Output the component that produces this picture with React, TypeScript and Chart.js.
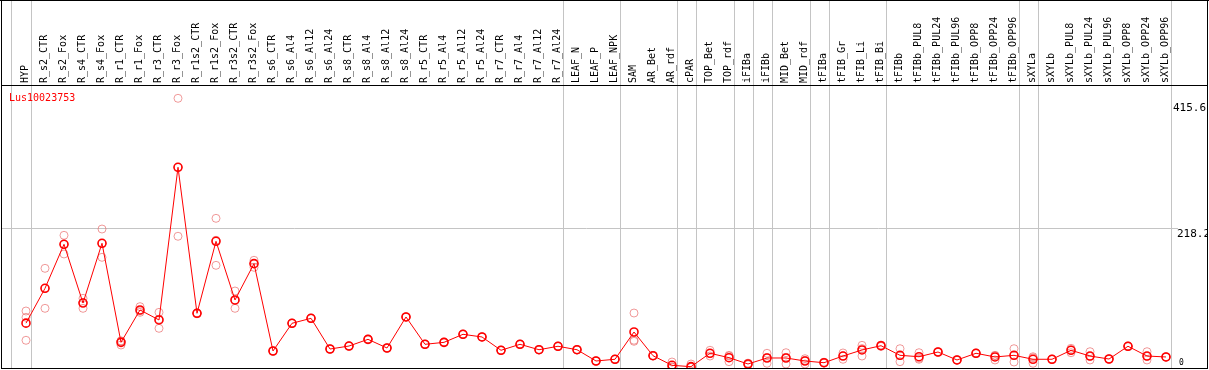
import React, { useEffect, useRef } from "react";
import { Chart, registerables } from "chart.js";

Chart.register(...registerables);

const geneId = "Lus10023753";

const categories = [
  "HYP", "R_s2_CTR", "R_s2_Fox", "R_s4_CTR", "R_s4_Fox", "R_r1_CTR", "R_r1_Fox", "R_r3_CTR", "R_r3_Fox",
  "R_r1s2_CTR", "R_r1s2_Fox", "R_r3s2_CTR", "R_r3s2_Fox", "R_s6_CTR", "R_s6_Al4", "R_s6_Al12", "R_s6_Al24",
  "R_s8_CTR", "R_s8_Al4", "R_s8_Al12", "R_s8_Al24", "R_r5_CTR", "R_r5_Al4", "R_r5_Al12", "R_r5_Al24",
  "R_r7_CTR", "R_r7_Al4", "R_r7_Al12", "R_r7_Al24", "LEAF_N", "LEAF_P", "LEAF_NPK", "SAM", "AR_Bet", "AR_rdf",
  "cPAR", "TOP_Bet", "TOP_rdf", "iFIBa", "iFIBb", "MID_Bet", "MID_rdf", "tFIBa", "tFIB_Gr", "tFIB_Li", "tFIB_Bi",
  "tFIBb", "tFIBb_PUL8", "tFIBb_PUL24", "tFIBb_PUL96", "tFIBb_OPP8", "tFIBb_OPP24", "tFIBb_OPP96",
  "sXYLa", "sXYLb", "sXYLb_PUL8", "sXYLb_PUL24", "sXYLb_PUL96", "sXYLb_OPP8", "sXYLb_OPP24", "sXYLb_OPP96",
];

const meanValues = [
  69.3, 124.0, 193.1, 100.9, 194.7, 39.2, 90.0, 74.3, 314.0,
  84.8, 197.8, 105.7, 162.7, 25.6, 69.1, 76.9, 28.7,
  33.4, 43.9, 30.3, 79.0, 36.1, 39.2, 51.8, 47.6,
  26.7, 36.1, 27.6, 33.0, 27.6, 9.9, 12.6, 55.4, 18.2, 3.1,
  1.0, 22.0, 15.1, 5.2, 14.6, 14.6, 9.9, 7.2, 17.7, 27.2, 33.9,
  18.8, 16.6, 24.0, 11.5, 22.0, 16.2, 18.8,
  12.6, 12.6, 26.7, 17.7, 13.0, 33.0, 17.7, 16.2,
];

const rep1 = [
  88.4, 155.4, 207.2, 108.3, 217.1, 40.9, 95.2, 86.3, 422.3,
  85.5, 233.9, 119.8, 168.0, 26.0, 69.5, 77.3, 29.0,
  33.8, 44.3, 30.7, 79.4, 36.5, 39.6, 52.2, 48.0,
  27.1, 36.5, 28.0, 33.4, 28.0, 10.3, 13.0, 85.2, 18.6, 8.3,
  5.2, 26.7, 18.8, 6.5, 22.0, 22.9, 13.5, 8.0, 22.5, 34.5, 35.0,
  29.2, 22.9, 24.5, 12.0, 22.5, 18.8, 29.2,
  16.6, 13.0, 29.8, 24.5, 13.4, 33.5, 24.5, 16.6,
];

const rep2 = [
  78.5, 92.6, 177.9, 92.6, 172.7, 35.0, 86.3, 61.2, 205.7,
  84.0, 160.1, 92.6, 157.0, 25.2, 68.7, 76.5, 28.3,
  33.0, 43.5, 29.9, 78.6, 35.7, 38.8, 51.4, 47.2,
  26.3, 35.7, 27.2, 32.6, 27.2, 9.5, 12.2, 40.8, 17.8, 0.5,
  0.0, 17.7, 8.8, 4.0, 6.3, 5.2, 5.2, 6.5, 12.6, 17.7, 32.8,
  8.8, 12.6, 23.5, 11.0, 21.5, 11.5, 8.3,
  6.3, 12.2, 22.9, 11.5, 12.6, 32.5, 11.5, 15.8,
];

const rep3 = [
  42.4, 124.0, 193.0, 101.8, 194.3, 41.5, 88.5, 75.4, 314.0,
  84.9, 199.4, 104.7, 163.0, 25.6, 69.1, 76.9, 28.7,
  33.4, 43.9, 30.3, 79.0, 36.1, 39.2, 51.8, 47.6,
  26.7, 36.1, 27.6, 33.0, 27.6, 9.9, 12.6, 42.5, 18.2, 0.5,
  0.0, 21.6, 17.7, 5.2, 15.5, 15.7, 11.0, 7.1, 18.0, 29.4, 33.9,
  18.4, 14.3, 24.0, 11.5, 22.0, 18.3, 18.9,
  14.9, 12.6, 27.4, 17.1, 13.0, 33.0, 17.1, 16.2,
];

const yTickValues = [0, 218.2, 415.6];
const yTickLabels = ["0", "218.2", "415.6"];

// category index after which a vertical group separator is drawn (-1 = before the first)
const groupBoundaries = [-1, 0, 28, 31, 34, 35, 37, 38, 39, 41, 42, 45, 52, 53, 60];

const MONO = "'DejaVu Sans Mono', monospace";

const framePlugin = {
  id: "frame",
  beforeDraw(chart: any) {
    const { ctx, width, height } = chart;
    ctx.save();
    ctx.fillStyle = "#ffffff";
    ctx.fillRect(0, 0, width, height);
    ctx.restore();
  },
  beforeDatasetsDraw(chart: any) {
    const { ctx, chartArea } = chart;
    const xs = chart.scales.x;
    ctx.save();
    ctx.fillStyle = "#c4c4c4";
    groupBoundaries.forEach((k) => {
      const px = Math.round(xs.getPixelForValue(k) + 4.6);
      ctx.fillRect(k < 0 ? px - 1 : px, 0, 1, chartArea.bottom);
    });
    ctx.restore();
  },
  afterDraw(chart: any) {
    const { ctx, width, chartArea } = chart;
    const ys = chart.scales.y;
    ctx.save();
    // frame
    ctx.fillStyle = "#000000";
    ctx.fillRect(0, 0, width, 1);
    ctx.fillRect(1, 0, 1, chartArea.bottom + 1);
    ctx.fillRect(width - 2, 0, 1, chartArea.bottom + 1);
    ctx.fillRect(1, Math.round(chartArea.bottom), width - 2, 1);
    ctx.fillRect(1, Math.round(chartArea.top), width - 2, 1);
    // gene id
    ctx.fillStyle = "#ff0000";
    ctx.font = `10px ${MONO}`;
    ctx.textAlign = "left";
    ctx.textBaseline = "alphabetic";
    ctx.fillText(geneId, 9, 100.5);
    // y labels
    ctx.beginPath();
    ctx.rect(chartArea.right, chartArea.top + 1, width - 2 - chartArea.right, chartArea.bottom - chartArea.top - 1);
    ctx.clip();
    ctx.fillStyle = "#000000";
    yTickValues.forEach((v, i) => {
      const py = ys.getPixelForValue(v);
      if (v === 0) {
        ctx.font = `8px ${MONO}`;
        ctx.fillText(yTickLabels[i], chartArea.right + 8, py - 2);
      } else {
        ctx.font = `11px ${MONO}`;
        const x = i === yTickValues.length - 1 ? chartArea.right + 2 : chartArea.right + 6;
        ctx.fillText(yTickLabels[i], x, py + 8.2);
      }
    });
    ctx.restore();
  },
};

export default function App() {
  const ref = useRef<HTMLCanvasElement | null>(null);

  useEffect(() => {
    if (!ref.current) return;
    const meanData = meanValues.map((y, i) => ({ x: i, y }));
    const repStyle = {
      showLine: false,
      pointRadius: 4,
      pointBorderWidth: 1,
      pointBorderColor: "rgba(232, 100, 100, 0.65)",
      pointBackgroundColor: "rgba(0,0,0,0)",
      order: 1,
    };
    const chart = new Chart(ref.current, {
      type: "scatter",
      data: {
        datasets: [
          {
            label: "mean",
            data: meanData,
            showLine: true,
            borderColor: "#ff0000",
            borderWidth: 1,
            tension: 0,
            pointRadius: 4,
            pointBorderWidth: 1.6,
            pointBorderColor: "#ff0000",
            pointBackgroundColor: "rgba(0,0,0,0)",
            order: 0,
          },
          { label: "rep1", data: rep1.map((y, i) => ({ x: i, y })), ...repStyle },
          { label: "rep2", data: rep2.map((y, i) => ({ x: i, y })), ...repStyle },
          { label: "rep3", data: rep3.map((y, i) => ({ x: i, y })), ...repStyle },
        ],
      },
      options: {
        animation: false,
        responsive: false,
        devicePixelRatio: 1,
        layout: { autoPadding: false, padding: { left: 2, right: 0, top: 0, bottom: 2 } },
        plugins: {
          legend: { display: false },
          tooltip: { enabled: false },
          title: { display: false },
        },
        scales: {
          x: {
            type: "linear",
            position: "top",
            bounds: "data",
            min: -24 / 19,
            max: -24 / 19 + 1169 / 19,
            grid: { display: false, drawTicks: false, tickLength: 0 },
            border: { display: false },
            afterBuildTicks: (s: any) => {
              s.ticks = categories.map((_, i) => ({ value: i }));
            },
            afterFit: (s: any) => {
              s.height = 85;
              s.paddingLeft = 0;
              s.paddingRight = 0;
              s.paddingTop = 0;
              s.paddingBottom = 0;
            },
            ticks: {
              autoSkip: false,
              maxRotation: 90,
              minRotation: 90,
              padding: 2,
              labelOffset: 11,
              color: "#000000",
              font: { family: MONO, size: 10 },
              callback: (_v: any, i: number) => categories[i] ?? "",
            },
          },
          y: {
            type: "linear",
            position: "right",
            bounds: "data",
            min: -1.1,
            max: 443.2,
            afterBuildTicks: (s: any) => {
              s.ticks = yTickValues.map((v) => ({ value: v }));
            },
            afterFit: (s: any) => {
              s.width = 38;
              s.paddingTop = 0;
              s.paddingBottom = 0;
            },
            border: { display: false },
            ticks: { display: false },
            grid: {
              drawTicks: true,
              tickLength: 7,
              lineWidth: 1,
              color: (c: any) => (c.tick && c.tick.value === 218.2 ? "#c4c4c4" : "rgba(0,0,0,0)"),
            },
          },
        },
      },
      plugins: [framePlugin],
    } as any);
    return () => chart.destroy();
  }, []);

  return (
    <div style={{ position: "absolute", left: 0, top: 0, width: 1209, height: 370 }}>
      <canvas ref={ref} width={1209} height={370} style={{ display: "block" }} />
    </div>
  );
}
